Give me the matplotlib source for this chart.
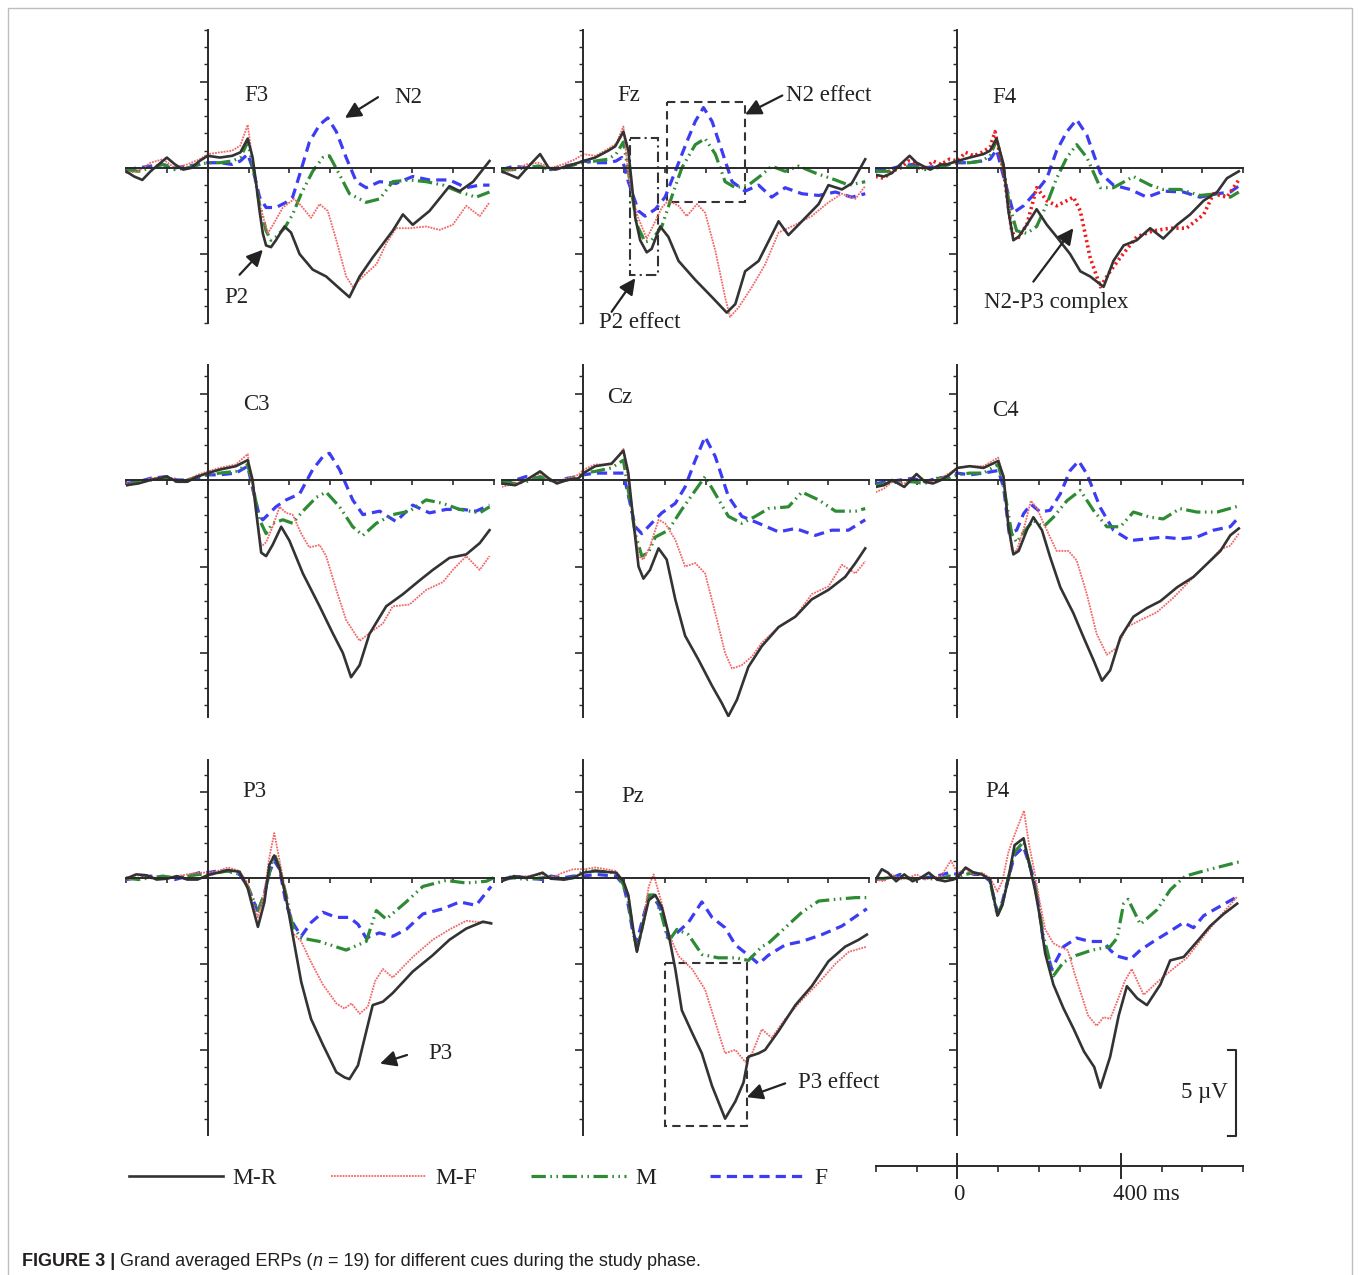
import numpy as np
import matplotlib.pyplot as plt
from matplotlib.patches import Rectangle
from matplotlib.ticker import MultipleLocator

# ---------------- data: grand averaged ERPs, uV (negative plotted up) ----------------
# conditions: MR = M-R, MF = M-F, M = M, F = F ; times in ms
F3_MR_T = [-200,-180,-160,-140,-120,-100,-80,-60,-40,-20,0,30,60,80,98,110,118,127,135,143,155,167,188,204,225,257,290,323,347,372,404,453,478,502,543,592,617,650,690]
F3_MR_V = [0.2,0.5,0.7,0.2,-0.2,-0.6,-0.2,0.1,0.0,-0.4,-0.7,-0.6,-0.7,-0.9,-1.7,-0.6,0.8,2.5,3.8,4.5,4.6,4.2,3.4,3.75,5.0,5.9,6.3,7.0,7.5,6.3,5.2,3.65,2.7,3.3,2.5,1.06,1.35,0.8,-0.4]
F3_MF_T = [-200,-170,-140,-110,-80,-50,-20,0,30,60,80,98,110,127,147,160,184,212,229,253,274,294,315,339,355,380,413,437,461,494,535,568,600,633,666,690]
F3_MF_V = [0.3,0.2,-0.3,-0.5,0.0,-0.2,-0.5,-0.8,-0.9,-1.0,-1.3,-2.5,-0.4,2.1,3.8,3.3,2.3,1.8,2.2,2.9,2.1,2.5,4.2,6.3,6.9,6.3,5.6,4.4,3.5,3.5,3.4,3.6,3.3,2.2,2.8,2.0]
F3_M_T = [-200,-170,-140,-110,-80,-50,-20,0,30,60,80,98,110,127,143,155,167,188,208,229,257,282,298,323,347,388,421,453,494,535,576,617,657,690]
F3_M_V = [0.1,0.2,0.0,-0.2,0.1,0.0,-0.2,-0.3,-0.3,-0.4,-0.6,-1.5,-0.2,2.1,3.65,4.2,4.0,3.5,2.7,1.5,0.2,-0.6,-0.7,0.4,1.5,2.0,1.8,0.8,0.7,0.8,1.0,1.4,1.7,1.4]
F3_F_T = [-200,-170,-140,-110,-80,-50,-20,0,30,60,80,98,110,127,143,167,192,208,225,249,274,294,315,339,364,388,421,461,502,543,592,633,666,690]
F3_F_V = [0.1,0.0,-0.1,-0.2,0.0,-0.1,-0.2,-0.3,-0.3,-0.2,-0.4,-0.8,0.0,1.7,2.3,2.3,2.0,1.7,0.4,-1.5,-2.5,-2.9,-2.1,-0.6,0.8,1.15,0.8,0.9,0.5,0.7,0.7,1.15,1.0,1.0]

FZ_MR_T = [-200,-180,-160,-130,-106,-85,-69,-40,-12,0,29,61,78,98,110,118,127,139,155,167,188,208,233,274,315,351,372,396,429,478,502,535,576,600,633,657,690]
FZ_MR_V = [0.2,0.4,0.6,-0.2,-0.8,0.0,0.1,-0.1,-0.3,-0.4,-0.6,-1.0,-1.25,-2.1,-1.0,0.8,2.9,4.2,4.9,4.7,3.4,4.0,5.4,6.5,7.5,8.4,7.9,6.0,5.4,3.1,3.9,3.1,2.1,1.0,1.25,0.9,-0.5]
FZ_MF_T = [-200,-170,-140,-110,-80,-50,-20,0,30,60,80,98,110,131,155,172,192,208,233,253,278,298,323,347,359,380,413,445,478,519,559,600,633,666,690]
FZ_MF_V = [0.3,0.1,-0.2,-0.3,0.0,-0.2,-0.5,-0.8,-0.7,-1.1,-1.4,-2.4,0.4,2.7,4.1,3.3,2.3,1.9,2.2,2.8,2.1,2.6,4.8,7.5,8.65,8.1,6.9,5.6,3.75,3.3,2.8,2.0,1.5,1.8,1.05]
FZ_M_T = [-200,-170,-140,-110,-80,-50,-20,0,30,60,80,98,110,131,151,167,192,216,241,274,298,323,347,372,404,437,461,494,527,568,617,650,690]
FZ_M_V = [0.1,0.1,0.0,-0.1,0.1,0.0,-0.2,-0.3,-0.4,-0.5,-0.8,-1.5,0.2,3.3,4.3,4.2,3.4,1.7,0.0,-1.35,-1.7,-0.8,0.8,1.15,1.0,0.4,-0.1,0.2,-0.1,0.3,0.7,1.0,0.8]
FZ_F_T = [-200,-170,-140,-110,-80,-50,-20,0,30,60,80,94,110,135,151,176,200,225,253,274,294,315,339,364,396,429,461,494,535,576,617,657,690]
FZ_F_V = [0.1,-0.1,0.0,-0.1,0.1,-0.1,-0.2,-0.4,-0.3,-0.3,-0.4,-0.6,0.8,2.5,2.8,2.4,1.7,0.2,-1.5,-2.7,-3.5,-2.7,-1.0,0.8,1.35,1.0,1.7,1.15,1.5,1.6,1.4,1.7,1.5]

F4_MR_T = [-200,-180,-160,-140,-117,-100,-67,-40,-26,0,30,64,80,96,113,125,137,150,170,194,219,243,276,301,325,358,382,407,439,472,504,538,570,603,636,660,689]
F4_MR_V = [0.4,0.5,0.3,-0.2,-0.7,-0.3,0.1,-0.2,-0.2,-0.4,-0.6,-0.8,-1.0,-1.7,-0.2,2.5,4.2,4.0,3.3,2.4,3.3,4.0,5.0,6.0,6.3,6.9,5.4,4.5,4.2,3.5,4.1,3.3,2.7,1.9,1.4,0.6,0.2]
F4_MF_T = [-200,-180,-160,-140,-120,-100,-80,-60,-40,-20,0,20,40,60,80,92,113,133,145,170,194,219,243,268,284,301,325,350,374,399,439,480,521,561,603,627,660,689]
F4_MF_V = [0.5,0.6,0.2,0.0,-0.4,-0.3,0.1,-0.4,-0.2,-0.5,-0.4,-0.9,-0.7,-0.9,-1.2,-2.1,0.2,3.65,4.2,3.3,1.15,1.9,2.2,1.9,1.7,2.5,5.2,6.9,6.0,5.2,4.0,3.65,3.5,3.5,2.7,1.5,1.7,0.7]
F4_M_T = [-200,-170,-140,-110,-80,-50,-20,0,30,60,80,96,113,127,145,170,194,219,243,268,292,317,350,382,431,472,504,545,594,636,668,689]
F4_M_V = [0.2,0.2,0.0,-0.1,0.1,0.0,-0.2,-0.3,-0.3,-0.4,-0.7,-1.6,0.0,2.1,3.65,3.8,3.4,2.1,0.6,-0.6,-1.35,-0.6,1.15,1.15,0.5,1.0,1.25,1.25,1.6,1.5,1.7,1.4]
F4_F_T = [-200,-170,-140,-110,-80,-50,-20,0,30,60,80,96,113,137,162,194,219,243,268,292,317,350,382,423,464,504,553,594,636,668,689]
F4_F_V = [0.1,0.1,-0.1,-0.2,0.0,-0.1,-0.2,-0.3,-0.3,-0.4,-0.5,-1.05,0.5,2.6,2.2,1.35,0.6,-1.0,-2.1,-2.8,-1.9,0.3,1.0,1.25,1.7,1.35,1.4,1.7,1.5,1.4,1.05]

C3_MR_T = [-200,-170,-140,-100,-75,-50,-25,0,29,69,98,110,118,131,143,159,180,200,233,274,306,331,351,372,396,437,478,519,551,592,633,666,690]
C3_MR_V = [0.3,0.2,0.0,-0.2,0.1,0.1,-0.2,-0.4,-0.6,-0.8,-1.15,0.0,1.7,4.2,4.4,3.75,2.7,3.5,5.4,7.3,8.85,10.0,11.4,10.7,8.9,7.3,6.6,5.8,5.2,4.5,4.3,3.65,2.9]
C3_MF_T = [-200,-170,-140,-100,-75,-50,-25,0,29,69,98,110,131,143,159,176,192,208,229,249,274,290,315,339,372,396,429,453,494,535,576,600,633,666,690]
C3_MF_V = [0.2,0.2,-0.1,-0.2,0.0,0.0,-0.3,-0.5,-0.7,-0.9,-1.5,0.5,3.85,3.6,2.7,1.55,1.9,2.0,3.1,3.9,3.75,4.4,6.35,8.1,9.3,8.85,8.3,7.3,7.2,6.35,5.9,5.2,4.4,5.2,4.4]
C3_M_T = [-200,-170,-140,-100,-75,-50,-25,0,29,69,98,110,127,143,159,184,208,233,266,290,323,355,380,413,453,494,535,576,617,666,690]
C3_M_V = [0.3,0.1,0.0,-0.1,0.1,0.0,-0.2,-0.3,-0.4,-0.5,-0.9,0.3,2.3,3.1,2.5,2.3,2.5,1.8,1.0,0.7,1.55,2.7,3.2,2.5,2.0,1.8,1.15,1.35,1.7,1.9,1.55]
C3_F_T = [-200,-170,-140,-100,-75,-50,-25,0,29,69,98,110,127,135,167,192,225,257,282,298,323,355,380,421,461,502,543,584,625,657,690]
C3_F_V = [0.2,0.1,-0.1,-0.2,0.0,0.0,-0.1,-0.3,-0.3,-0.4,-0.8,0.5,2.1,2.3,1.55,1.15,0.8,-0.6,-1.35,-1.55,-0.6,1.15,2.0,1.8,2.4,1.45,1.9,1.7,1.7,1.8,1.45]

CZ_MR_T = [-200,-167,-140,-106,-85,-65,-40,-12,0,29,69,98,110,122,135,147,163,184,204,225,249,282,315,339,355,376,404,437,478,519,559,600,641,666,690]
CZ_MR_V = [0.2,0.3,0.0,-0.5,-0.1,0.2,0.0,-0.1,-0.4,-0.8,-0.95,-1.7,-0.4,2.3,5.0,5.7,5.2,3.95,4.6,6.9,9.0,10.4,11.9,12.9,13.65,12.7,10.8,9.6,8.5,7.9,6.9,6.35,5.6,4.8,3.95]
CZ_MF_T = [-200,-167,-140,-106,-85,-65,-40,-12,0,29,69,98,118,135,147,163,184,200,225,249,274,298,323,347,364,388,413,437,478,519,559,600,633,666,690]
CZ_MF_V = [0.4,0.2,0.0,-0.4,0.0,0.1,-0.1,-0.3,-0.6,-0.9,-0.9,-1.8,1.3,4.4,4.6,3.85,2.3,2.5,3.45,5.0,4.8,5.4,7.7,10.0,10.9,10.7,10.2,9.4,8.5,7.9,6.6,6.15,4.9,5.4,4.7]
CZ_M_T = [-200,-167,-140,-106,-85,-65,-40,-12,0,29,69,98,127,143,159,176,208,241,274,298,323,355,388,421,453,502,535,576,617,666,690]
CZ_M_V = [0.1,0.2,0.1,-0.2,0.0,0.1,0.0,-0.2,-0.4,-0.5,-0.7,-1.15,3.1,4.4,4.2,3.3,2.9,1.7,0.6,-0.2,0.8,2.1,2.5,2.1,1.65,1.55,0.7,1.15,1.8,1.8,1.65]
CZ_F_T = [-200,-167,-140,-106,-85,-65,-40,-12,0,29,69,98,127,143,167,192,225,249,274,298,323,355,388,429,478,519,568,608,649,690]
CZ_F_V = [0.2,0.0,-0.2,-0.1,0.0,0.1,-0.1,-0.2,-0.3,-0.4,-0.4,-0.4,2.7,3.1,2.5,1.9,1.35,0.4,-1.15,-2.5,-1.35,0.95,2.1,2.5,3.0,2.8,3.2,2.9,2.9,2.3]

C4_MR_T = [-200,-180,-160,-130,-100,-80,-60,-40,-20,0,30,64,100,113,125,137,150,170,186,207,227,252,284,309,333,354,374,399,431,464,497,538,578,611,644,668,689]
C4_MR_V = [0.4,0.3,0.0,0.4,-0.35,0.1,0.2,0.0,-0.3,-0.7,-0.8,-0.7,-1.1,-0.2,2.7,4.3,4.1,2.9,2.15,2.9,4.45,6.2,7.7,9.1,10.4,11.6,11.0,9.1,7.9,7.4,7.0,6.2,5.6,4.85,4.1,3.2,2.8]
C4_MF_T = [-200,-180,-160,-130,-100,-80,-60,-40,-20,0,30,64,100,113,133,145,164,180,194,211,243,272,292,317,341,366,390,415,448,488,529,570,611,644,668,689]
C4_MF_V = [0.7,0.5,0.1,0.2,-0.3,0.0,0.1,-0.1,-0.4,-0.7,-0.8,-0.8,-1.3,0.0,4.1,4.1,2.7,1.2,1.6,2.5,4.1,4.1,4.65,6.6,8.9,10.1,9.7,8.5,8.1,7.65,6.8,5.8,4.85,4.0,3.8,3.1]
C4_M_T = [-200,-170,-140,-110,-80,-50,-20,0,30,64,100,113,133,145,166,186,211,235,268,301,333,366,399,431,472,504,545,586,636,689]
C4_M_V = [0.3,0.2,0.1,0.1,0.2,-0.1,-0.1,-0.3,-0.4,-0.4,-0.9,0.3,3.1,3.6,2.9,2.35,2.7,2.15,1.2,0.6,1.75,2.7,2.7,1.85,2.15,2.25,1.65,1.85,1.85,1.5]
C4_F_T = [-200,-170,-140,-110,-80,-50,-20,0,30,64,100,113,127,145,162,180,203,227,252,276,297,317,350,382,423,464,504,545,586,627,668,689]
C4_F_V = [0.2,0.1,0.0,-0.1,0.1,-0.1,-0.2,-0.4,-0.3,-0.4,-0.55,0.4,3.1,2.9,1.95,1.4,1.85,1.75,0.8,-0.55,-1.1,-0.35,1.6,2.9,3.5,3.4,3.3,3.4,3.3,2.9,2.7,2.15]

P3_MR_T = [-200,-175,-150,-125,-100,-75,-50,-25,0,25,50,78,98,110,123,139,151,163,176,192,208,229,253,282,315,335,347,368,388,404,429,453,502,551,592,633,674,694]
P3_MR_V = [0.05,-0.2,-0.15,0.1,0.05,-0.1,0.1,0.1,-0.15,-0.3,-0.45,-0.35,0.6,1.7,2.85,1.4,-0.75,-1.3,-0.55,1.2,3.3,6.05,8.2,9.7,11.3,11.6,11.7,10.9,8.95,7.4,7.2,6.7,5.45,4.5,3.6,2.95,2.55,2.65]
P3_MF_T = [-200,-175,-150,-125,-100,-75,-50,-25,0,25,50,78,98,110,123,139,151,163,176,192,208,229,253,282,315,335,352,372,392,410,429,453,502,551,592,633,674,694]
P3_MF_V = [0.1,0.0,-0.1,0.0,0.0,-0.1,-0.2,-0.3,-0.3,-0.4,-0.6,-0.4,0.3,1.5,2.3,0.8,-1.2,-2.6,-1.0,1.0,3.2,3.7,4.9,6.2,7.3,7.6,7.3,7.9,7.5,6.0,5.3,5.8,4.6,3.6,3.0,2.5,2.6,2.6]
P3_M_T = [-200,-170,-140,-110,-80,-50,-20,0,25,50,78,98,123,139,151,163,176,192,208,229,274,339,388,413,437,486,527,584,633,682,700]
P3_M_V = [0.0,0.1,0.0,-0.1,0.0,-0.1,-0.2,-0.2,-0.3,-0.4,-0.2,0.5,1.9,1.0,-0.3,-1.4,-0.6,1.0,2.8,3.5,3.7,4.2,3.7,1.9,2.4,1.4,0.5,0.15,0.3,0.2,0.0]
P3_F_T = [-200,-170,-140,-110,-80,-50,-20,0,25,50,78,98,123,139,151,163,176,192,208,229,253,282,315,347,368,388,420,453,486,527,576,617,657,694]
P3_F_V = [0.1,0.0,-0.1,0.0,0.1,-0.1,-0.3,-0.3,-0.4,-0.4,-0.2,0.5,2.0,0.9,-0.3,-1.0,-0.5,1.5,2.6,3.4,2.6,2.0,2.3,2.3,2.7,3.5,3.2,3.4,3.0,2.1,1.8,1.4,1.6,0.5]

PZ_MR_T = [-200,-170,-140,-100,-80,-50,-25,0,30,80,98,110,122,131,143,160,176,192,208,225,241,266,290,315,347,372,392,404,429,445,478,519,559,600,641,674,694]
PZ_MR_V = [0.2,-0.1,0.0,-0.3,0.05,0.1,0.0,-0.3,-0.4,-0.3,0.2,1.0,3.0,4.3,3.0,1.3,1.0,1.7,3.2,5.3,7.7,9.0,10.2,12.1,14.0,13.0,11.9,10.4,10.2,10.0,8.9,7.4,6.3,4.85,4.0,3.6,3.3]
PZ_MF_T = [-200,-170,-140,-100,-80,-50,-25,0,30,80,98,110,122,131,143,160,172,192,208,233,266,298,323,347,372,396,413,437,461,494,535,576,617,650,694]
PZ_MF_V = [0.1,0.0,-0.1,-0.2,0.0,-0.3,-0.5,-0.5,-0.6,-0.4,0.2,1.0,3.0,4.2,3.0,0.5,-0.2,1.5,3.2,4.55,5.3,6.5,8.4,10.2,10.0,10.7,10.2,8.8,9.3,8.2,7.1,6.1,5.0,4.3,4.0]
PZ_M_T = [-200,-170,-140,-100,-80,-50,-25,0,30,80,98,110,122,131,143,160,172,192,208,229,257,290,330,372,404,437,453,494,535,576,617,666,694]
PZ_M_V = [0.1,0.0,0.1,0.0,-0.1,0.1,0.0,-0.4,-0.4,-0.3,0.4,1.4,3.1,4.2,3.0,1.0,1.0,2.2,3.7,3.0,3.3,4.45,4.65,4.65,4.8,4.0,3.8,2.9,2.0,1.35,1.25,1.15,1.15]
PZ_F_T = [-200,-170,-140,-100,-80,-50,-25,0,30,80,98,110,122,131,143,160,172,192,208,229,257,290,315,347,372,404,429,453,494,535,584,633,694]
PZ_F_V = [0.1,-0.1,0.0,0.1,-0.1,0.0,-0.1,-0.1,-0.2,-0.1,0.4,1.6,3.3,3.7,2.6,1.1,1.0,2.0,3.5,3.2,2.6,1.4,2.3,2.9,3.9,4.5,5.0,4.5,3.9,3.7,3.3,2.8,1.8]

P4_MR_T = [-200,-185,-170,-150,-130,-110,-90,-70,-50,-30,-10,0,20,40,60,80,98,110,125,140,162,176,190,200,215,235,260,285,310,335,350,374,395,415,440,464,497,521,554,587,619,652,685]
P4_MR_V = [0.1,-0.5,-0.3,0.2,-0.2,0.2,0.0,-0.3,0.1,0.2,0.1,0.0,-0.6,-0.3,-0.2,0.1,2.2,1.6,0.0,-1.9,-2.3,-0.8,0.7,2.0,4.4,6.2,7.6,8.8,10.1,11.0,12.2,10.4,8.0,6.3,7.0,7.4,6.2,4.8,4.6,3.7,2.8,2.1,1.5]
P4_MF_T = [-200,-180,-160,-140,-120,-100,-80,-60,-40,-16,0,20,40,60,80,98,110,125,140,163,175,190,200,215,235,250,270,290,320,341,358,374,391,410,427,456,497,538,562,603,644,685]
P4_MF_V = [0.1,0.2,-0.2,0.1,0.0,-0.2,0.1,0.0,-0.1,-1.0,-0.3,-0.5,-0.2,-0.3,0.0,0.8,0.2,-1.5,-2.5,-3.9,-2.0,-0.2,1.2,3.0,3.8,4.0,4.2,5.8,8.0,8.6,8.1,8.2,7.2,6.0,5.3,6.8,5.9,5.1,4.65,3.4,2.2,1.1]
P4_M_T = [-200,-170,-140,-110,-80,-50,-20,0,20,40,60,80,98,110,125,140,162,180,195,210,235,260,292,330,374,391,407,418,448,489,521,558,603,652,685,700]
P4_M_V = [0.1,0.0,-0.1,0.1,0.0,0.1,-0.1,0.0,-0.2,-0.3,-0.2,0.2,2.2,1.5,0.0,-1.5,-2.1,-0.5,1.0,3.3,5.7,4.9,4.5,4.2,4.0,3.5,1.5,1.25,2.7,1.85,0.7,-0.1,-0.4,-0.7,-0.9,-0.9]
P4_F_T = [-200,-170,-140,-110,-80,-50,-20,0,20,40,60,80,98,110,125,140,162,180,195,210,231,260,292,325,358,374,391,423,448,480,521,554,578,603,636,685]
P4_F_V = [0.0,0.1,-0.2,0.1,0.0,-0.1,-0.3,-0.2,-0.4,-0.2,-0.2,0.2,2.0,1.4,0.0,-1.3,-1.8,-0.5,0.9,3.6,5.3,4.0,3.5,3.7,3.7,4.2,4.55,4.75,4.2,3.7,3.1,2.6,2.9,2.2,1.75,1.1]

ELECTRODES = ['F3', 'Fz', 'F4', 'C3', 'Cz', 'C4', 'P3', 'Pz', 'P4']
CONDITIONS = ['F', 'M', 'MF', 'MR']          # drawing order
LEGEND_ORDER = ['MR', 'MF', 'M', 'F']
LEGEND_LABELS = {'MR': 'M-R', 'MF': 'M-F', 'M': 'M', 'F': 'F'}

g = globals()
SERIES = {e: {c: (g[e.upper() + '_' + c + '_T'], g[e.upper() + '_' + c + '_V'])
              for c in CONDITIONS} for e in ELECTRODES}

# ---------------- layout (pixels of the 1360x1275 image) ----------------
W, H = 1360, 1275
plt.rcParams['font.family'] = ['Liberation Serif', 'DejaVu Serif']
fig = plt.figure(figsize=(W / 100, H / 100), dpi=100)

def px_axes(x0, x1, y0, y1):
    return fig.add_axes([x0 / W, 1 - y1 / H, (x1 - x0) / W, (y1 - y0) / H])

def fx(x, y):
    return (x / W, 1 - y / H)

COL_X = [(126, 493.6), (501.7, 869.3), (875.7, 1243.3)]
ROW_Y = [(30, 323), (365, 717), (760, 1135)]
ROW_LIM = [(-8, 9), (-6.65, 13.7), (-6.85, 14.95)]

STYLE = {
    'F': dict(color='#3c3cf4', lw=2.3, ls=(0, (3.2, 1.9))),
    'M': dict(color='#2e8b34', lw=2.3, ls=(0, (4.5, 1.4, 0.5, 1.4, 0.5, 1.4))),
    'MF': dict(color='#f26767', lw=1.3, ls=(0, (1, 0.6))),
    'MR': dict(color='#333333', lw=1.9, ls='-'),
}
AXC = '#2a2a2a'

axes = {}
handles = {}
for i, e in enumerate(ELECTRODES):
    r, c = divmod(i, 3)
    ax = px_axes(*COL_X[c], *ROW_Y[r])
    axes[e] = ax
    lo, hi = ROW_LIM[r]
    ax.set_xlim(-200, 700)
    ax.set_ylim(hi, lo)
    ax.patch.set_visible(False)
    for cond in CONDITIONS:
        t, v = SERIES[e][cond]
        assert len(t) == len(v), e + cond
        st = dict(STYLE[cond])
        if e == 'F4' and cond == 'MF':
            st.update(color='#ee1c1c', lw=2.6, ls=(0, (0.6, 0.9)))
        ln, = ax.plot(t, v, **st)
        if e == 'F3':
            handles[cond] = ln
    ax.spines['top'].set_visible(False)
    ax.spines['right'].set_visible(False)
    ax.spines['left'].set_position(('data', 0))
    ax.spines['bottom'].set_position(('data', 0))
    for s in ['left', 'bottom']:
        ax.spines[s].set_color(AXC)
        ax.spines[s].set_linewidth(1.4)
    ax.xaxis.set_major_locator(MultipleLocator(100))
    ax.yaxis.set_major_locator(MultipleLocator(5))
    ax.yaxis.set_minor_locator(MultipleLocator(1))
    ax.tick_params(axis='x', direction='out', length=3.5, width=1.2, color=AXC,
                   labelbottom=False)
    ax.tick_params(axis='y', which='major', direction='out', length=5.5, width=1.2,
                   color=AXC, labelleft=False)
    ax.tick_params(axis='y', which='minor', direction='out', length=3, width=1.0,
                   color=AXC)

# electrode labels (data coords of each panel)
LABEL_POS = {'F3': (120, -4.2), 'Fz': (112, -4.2), 'F4': (114, -4.1),
             'C3': (120, -4.35), 'Cz': (88, -4.75), 'C4': (117, -4.0),
             'P3': (115, -5.0), 'Pz': (122, -4.75), 'P4': (97, -5.0)}
TXT = dict(fontsize=16.5, color='#222222', va='center', ha='center')
for e in ELECTRODES:
    axes[e].text(*LABEL_POS[e], e, **TXT)

ARW = dict(arrowstyle='-|>', color='#222222', lw=1.6, mutation_scale=24,
           shrinkA=0, shrinkB=0)

def note(ax, text, txy, tail, head, **kw):
    ax.text(*txy, text, **dict(TXT, **kw))
    ax.annotate('', xy=head, xytext=tail, arrowprops=ARW, annotation_clip=False)

note(axes['F3'], 'N2', (490, -4.1), (417, -4.1), (336, -2.9))
note(axes['F3'], 'P2', (69, 7.5), (78, 6.2), (135, 4.75))
note(axes['Fz'], 'N2 effect', (600, -4.2), (487, -4.2), (396, -3.1))
note(axes['Fz'], 'P2 effect', (139, 9.0), (69, 8.35), (127, 6.4))
note(axes['F4'], 'N2-P3 complex', (242, 7.8), (186, 6.6), (284, 3.5))
note(axes['P3'], 'P3', (569, 10.2), (488, 10.3), (422, 10.8))
note(axes['Pz'], 'P3 effect', (624, 11.9), (494, 11.95), (400, 12.75))

BOX = dict(fill=False, ec='#333333', lw=1.5, clip_on=False)
axes['Fz'].add_patch(Rectangle((205, -3.8), 191, 5.77, ls=(0, (4, 2.5)), **BOX))
axes['Fz'].add_patch(Rectangle((114, -1.76), 69, 7.95, ls=(0, (5, 2, 1, 2)), **BOX))
axes['Pz'].add_patch(Rectangle((200, 4.96), 201, 9.44, ls=(0, (4, 2.5)), **BOX))

# 5 uV scale bar in P4 panel
sb = axes['P4']
sb.plot([663, 683, 683, 663], [10, 10, 15, 15], color=AXC, lw=1.5, clip_on=False)
sb.text(663, 12.5, '5 \u00b5V', fontsize=16.5, color='#222222', ha='right', va='center')

# time scale
ts = px_axes(875.7, 1243.3, 1140, 1192)
ts.set_xlim(-200, 700)
ts.set_ylim(-1, 1)
ts.patch.set_visible(False)
for s in ['top', 'right', 'left']:
    ts.spines[s].set_visible(False)
ts.spines['bottom'].set_position(('data', 0))
ts.spines['bottom'].set_color(AXC)
ts.spines['bottom'].set_linewidth(1.4)
ts.set_yticks([])
ts.set_xticks([0, 400])
ts.xaxis.set_minor_locator(MultipleLocator(100))
ts.tick_params(axis='x', which='major', direction='inout', length=19, width=1.4,
               color=AXC, labelbottom=False)
ts.tick_params(axis='x', which='minor', direction='out', length=4, width=1.2, color=AXC)
fig.text(*fx(959, 1194), '0', fontsize=16.5, color='#222222', ha='center', va='center')
fig.text(*fx(1113, 1194), '400 ms', fontsize=16.5, color='#222222', ha='left', va='center')

# legend
fig.legend([handles[k] for k in LEGEND_ORDER], [LEGEND_LABELS[k] for k in LEGEND_ORDER],
           loc='center', bbox_to_anchor=fx(478, 1178), ncol=4, frameon=False,
           fontsize=17, handlelength=4.0, handletextpad=0.4, columnspacing=2.3,
           labelcolor='#222222')

# frame around the figure
fig.add_artist(Rectangle(fx(8, 1290), (1352 - 8) / W, (1290 - 8) / H,
                         transform=fig.transFigure, fill=False, ec='#bdbdbd', lw=1.0))

# caption
rend = fig.canvas.get_renderer()
cx = 22
CAP = dict(family=['Liberation Sans', 'DejaVu Sans'], fontsize=13, color='#231f20',
           va='baseline', ha='left')
for piece, extra in [('FIGURE 3 | ', dict(weight='bold')),
                     ('Grand averaged ERPs (', {}),
                     ('n', dict(style='italic')),
                     (' = 19) for different cues during the study phase.', {})]:
    tx = fig.text(*fx(cx, 1266), piece, **dict(CAP, **extra))
    cx += tx.get_window_extent(renderer=rend).width

fig.savefig('out.png', dpi=100, facecolor='white')
